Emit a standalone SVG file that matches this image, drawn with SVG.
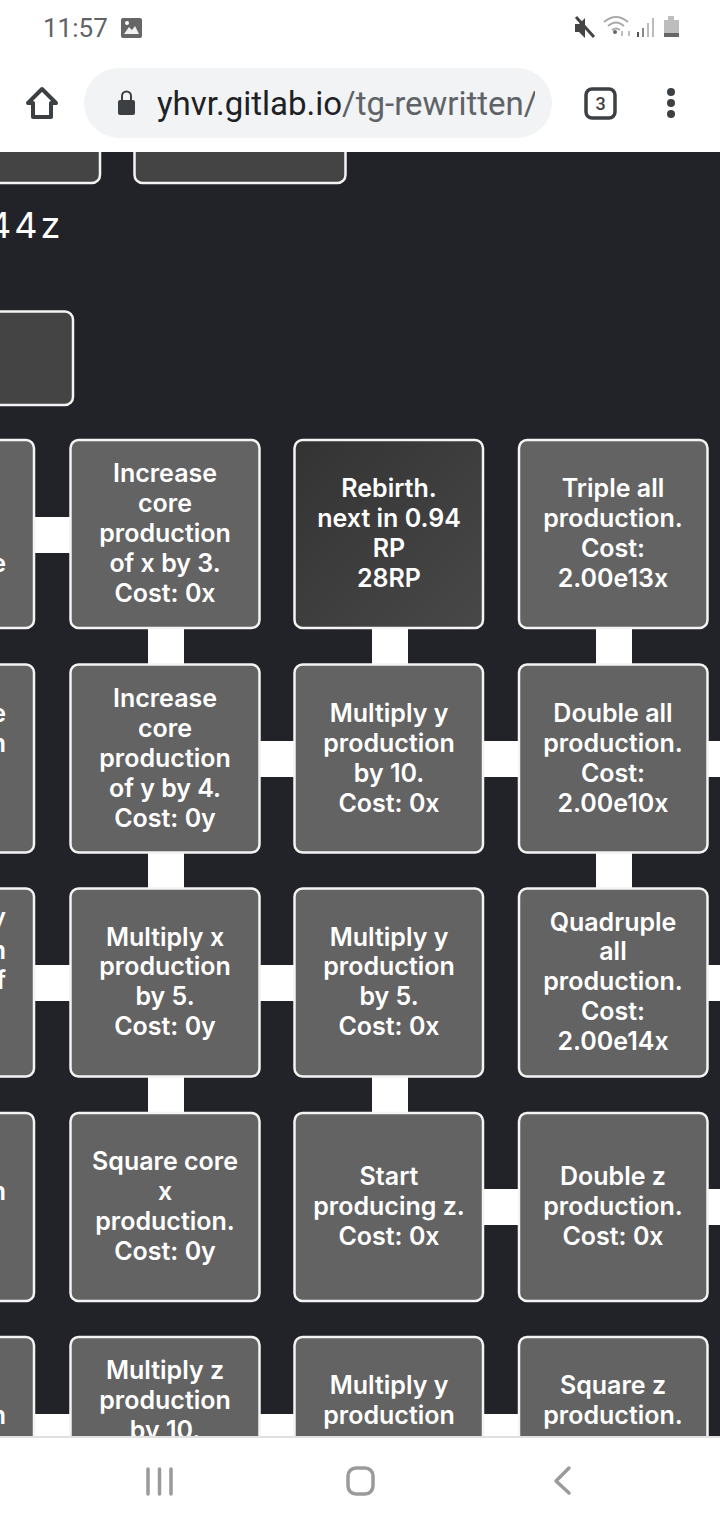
<svg xmlns="http://www.w3.org/2000/svg" width="720" height="1520" viewBox="0 0 720 1520">
<style>
.n{fill:#636363;stroke:#f4f4f4;stroke-width:2.5}
.d{fill:url(#dark);stroke:#f4f4f4;stroke-width:2.5}
.b{fill:#444;stroke:#f4f4f4;stroke-width:2.5}
.t{font-family:Inter,"Liberation Sans",sans-serif;font-weight:600;font-size:25px;fill:#fff;text-anchor:middle}
.e{text-anchor:end}
.c{fill:#fff}
</style>
<defs>
<linearGradient id="dark" x1="0" y1="0" x2="1" y2="1"><stop offset="0" stop-color="#333"/><stop offset="1" stop-color="#484848"/></linearGradient>
<clipPath id="url"><rect x="150" y="70" width="385" height="70"/></clipPath>
</defs>
<rect width="720" height="1520" fill="#222328"/>
<g id="connectors" class="c">
<rect x="30" y="517" width="44" height="36"/>
<rect x="30" y="965" width="44" height="36"/>
<rect x="30" y="1414" width="44" height="30"/>
<rect x="255" y="741" width="44" height="36"/>
<rect x="255" y="965" width="44" height="36"/>
<rect x="255" y="1414" width="44" height="30"/>
<rect x="479" y="741" width="44" height="36"/>
<rect x="479" y="1189" width="44" height="36"/>
<rect x="479" y="1414" width="44" height="30"/>
<rect x="703" y="741" width="17" height="36"/>
<rect x="703" y="965" width="17" height="36"/>
<rect x="703" y="1189" width="17" height="36"/>
<rect x="148" y="624" width="36" height="44"/>
<rect x="148" y="849" width="36" height="44"/>
<rect x="148" y="1073" width="36" height="44"/>
<rect x="372" y="624" width="36" height="44"/>
<rect x="372" y="1073" width="36" height="44"/>
<rect x="596" y="624" width="36" height="44"/>
<rect x="596" y="849" width="36" height="44"/>
</g>
<g id="top-left"><rect class="b" x="-40" y="120" width="140" height="63" rx="8"/></g>
<g id="top-mid"><rect class="b" x="134.500" y="120" width="211" height="63" rx="8"/></g>
<text id="amount" x="-12" y="238" font-family="Inter,'Liberation Sans',sans-serif" font-size="36" letter-spacing="3" fill="#fff">44z</text>
<g id="rebirth-side"><rect class="b" x="-40" y="311.500" width="113" height="93.500" rx="8"/></g>

<g id="n00"><rect class="n" x="-155" y="440" width="189" height="188" rx="8"/><text class="t e" x="6" y="572">e</text></g>
<g id="n01"><rect class="n" x="70.500" y="440" width="189" height="188" rx="8"/><text class="t"><tspan x="165" y="482">Increase</tspan><tspan x="165" y="512">core</tspan><tspan x="165" y="542">production</tspan><tspan x="165" y="572">of x by 3.</tspan><tspan x="165" y="602">Cost: 0x</tspan></text></g>
<g id="n02"><rect class="d" x="294.500" y="440" width="188.500" height="188" rx="8"/><text class="t"><tspan x="389" y="497">Rebirth.</tspan><tspan x="389" y="527">next in 0.94</tspan><tspan x="389" y="557">RP</tspan><tspan x="389" y="587">28RP</tspan></text></g>
<g id="n03"><rect class="n" x="519" y="440" width="188.500" height="188" rx="8"/><text class="t"><tspan x="613" y="497">Triple all</tspan><tspan x="613" y="527">production.</tspan><tspan x="613" y="557">Cost:</tspan><tspan x="613" y="587">2.00e13x</tspan></text></g>

<g id="n10"><rect class="n" x="-155" y="664.500" width="189" height="188" rx="8"/><text class="t e"><tspan x="6" y="722">e</tspan><tspan x="6" y="752">n</tspan></text></g>
<g id="n11"><rect class="n" x="70.500" y="664.500" width="189" height="188" rx="8"/><text class="t"><tspan x="165" y="707">Increase</tspan><tspan x="165" y="737">core</tspan><tspan x="165" y="767">production</tspan><tspan x="165" y="797">of y by 4.</tspan><tspan x="165" y="827">Cost: 0y</tspan></text></g>
<g id="n12"><rect class="n" x="294.500" y="664.500" width="188.500" height="188" rx="8"/><text class="t"><tspan x="389" y="722">Multiply y</tspan><tspan x="389" y="752">production</tspan><tspan x="389" y="782">by 10.</tspan><tspan x="389" y="812">Cost: 0x</tspan></text></g>
<g id="n13"><rect class="n" x="519" y="664.500" width="188.500" height="188" rx="8"/><text class="t"><tspan x="613" y="722">Double all</tspan><tspan x="613" y="752">production.</tspan><tspan x="613" y="782">Cost:</tspan><tspan x="613" y="812">2.00e10x</tspan></text></g>

<g id="n20"><rect class="n" x="-155" y="888.500" width="189" height="188" rx="8"/><text class="t e"><tspan x="6" y="926">y</tspan><tspan x="6" y="959">n</tspan><tspan x="6" y="989">f</tspan></text></g>
<g id="n21"><rect class="n" x="70.500" y="888.500" width="189" height="188" rx="8"/><text class="t"><tspan x="165" y="946">Multiply x</tspan><tspan x="165" y="975">production</tspan><tspan x="165" y="1005">by 5.</tspan><tspan x="165" y="1035">Cost: 0y</tspan></text></g>
<g id="n22"><rect class="n" x="294.500" y="888.500" width="188.500" height="188" rx="8"/><text class="t"><tspan x="389" y="946">Multiply y</tspan><tspan x="389" y="975">production</tspan><tspan x="389" y="1005">by 5.</tspan><tspan x="389" y="1035">Cost: 0x</tspan></text></g>
<g id="n23"><rect class="n" x="519" y="888.500" width="188.500" height="188" rx="8"/><text class="t"><tspan x="613" y="931">Quadruple</tspan><tspan x="613" y="960">all</tspan><tspan x="613" y="990">production.</tspan><tspan x="613" y="1020">Cost:</tspan><tspan x="613" y="1050">2.00e14x</tspan></text></g>

<g id="n30"><rect class="n" x="-155" y="1113" width="189" height="188" rx="8"/><text class="t e" x="6" y="1200">n</text></g>
<g id="n31"><rect class="n" x="70.500" y="1113" width="189" height="188" rx="8"/><text class="t"><tspan x="165" y="1170">Square core</tspan><tspan x="165" y="1200">x</tspan><tspan x="165" y="1230">production.</tspan><tspan x="165" y="1260">Cost: 0y</tspan></text></g>
<g id="n32"><rect class="n" x="294.500" y="1113" width="188.500" height="188" rx="8"/><text class="t"><tspan x="389" y="1185">Start</tspan><tspan x="389" y="1215">producing z.</tspan><tspan x="389" y="1245">Cost: 0x</tspan></text></g>
<g id="n33"><rect class="n" x="519" y="1113" width="188.500" height="188" rx="8"/><text class="t"><tspan x="613" y="1185">Double z</tspan><tspan x="613" y="1215">production.</tspan><tspan x="613" y="1245">Cost: 0x</tspan></text></g>

<g id="n40"><rect class="n" x="-155" y="1337" width="189" height="188" rx="8"/><text class="t e" x="6" y="1424">n</text></g>
<g id="n41"><rect class="n" x="70.500" y="1337" width="189" height="188" rx="8"/><text class="t"><tspan x="165" y="1379">Multiply z</tspan><tspan x="165" y="1409">production</tspan><tspan x="165" y="1439">by 10.</tspan></text></g>
<g id="n42"><rect class="n" x="294.500" y="1337" width="188.500" height="188" rx="8"/><text class="t"><tspan x="389" y="1394">Multiply y</tspan><tspan x="389" y="1424">production</tspan></text></g>
<g id="n43"><rect class="n" x="519" y="1337" width="188.500" height="188" rx="8"/><text class="t"><tspan x="613" y="1394">Square z</tspan><tspan x="613" y="1424">production.</tspan></text></g>

<g id="browser-bar">
<rect width="720" height="152" fill="#fff"/>
<text x="43" y="37" font-family="Roboto,sans-serif" font-size="26" fill="#5f6368">11:57</text>
<rect x="121" y="18" width="21" height="20" rx="2" fill="#666"/>
<path d="M124 34l5-7 3 3 3-4 4 8z" fill="#fff" opacity=".9"/><circle cx="127" cy="23" r="2" fill="#fff"/>
<path d="M575 24h4l6-6v20l-6-6h-4z" fill="#444"/><path d="M576 17l18 20" stroke="#444" stroke-width="3"/>
<path d="M604 22q12-10 24 0M608 26q8-7 16 0M612 30q4-3 8 0" fill="none" stroke="#aaa" stroke-width="2"/><circle cx="615" cy="32" r="2" fill="#666"/>
<path d="M622 36v-5M629 36v-5" stroke="#aaa" stroke-width="1.500"/>
<rect x="637" y="32" width="2" height="5" fill="#555"/><rect x="642" y="28" width="2" height="9" fill="#888"/><rect x="647" y="23" width="2" height="14" fill="#bbb"/><rect x="652" y="18" width="2" height="19" fill="#bbb"/>
<path d="M664 20h4v-4h6v4h5v17h-15z" fill="#bdbdbd"/><rect x="664" y="33" width="15" height="4" fill="#666"/>
<path d="M28 103l14-14 14 14h-5v14h-18v-14z" fill="none" stroke="#3c4043" stroke-width="4" stroke-linejoin="round"/>
<rect x="84" y="68" width="468" height="70" rx="35" fill="#f1f3f4"/>
<rect x="118" y="100" width="17" height="15" rx="2" fill="#3c4043"/><path d="M122 100v-4a4.500 4.500 0 0 1 9 0v4" fill="none" stroke="#3c4043" stroke-width="2"/>
<g clip-path="url(#url)"><text x="157" y="115" font-family="Roboto,sans-serif" font-size="33" fill="#202124">yhvr.gitlab.io<tspan fill="#5f6368">/tg-rewritten/index.html</tspan></text></g>
<rect x="586" y="89" width="29" height="29" rx="6" fill="none" stroke="#3c4043" stroke-width="3.500"/>
<text x="600.500" y="110" font-family="Roboto,sans-serif" font-weight="500" font-size="18" fill="#3c4043" text-anchor="middle">3</text>
<circle cx="671" cy="92" r="4" fill="#3c4043"/><circle cx="671" cy="103" r="4" fill="#3c4043"/><circle cx="671" cy="114" r="4" fill="#3c4043"/>
</g>
<g id="nav-bar">
<rect y="1436" width="720" height="84" fill="#fff"/><rect y="1436" width="720" height="2" fill="#e0e0e0"/>
<path d="M148 1469v25M159.500 1469v25M171 1469v25" stroke="#9a9a9a" stroke-width="3.500" stroke-linecap="round"/>
<rect x="348" y="1468" width="25" height="26" rx="8" fill="none" stroke="#9a9a9a" stroke-width="3.500"/>
<path d="M569 1468l-13 13 13 12" fill="none" stroke="#9a9a9a" stroke-width="3.500" stroke-linecap="round" stroke-linejoin="round"/>
</g>
</svg>
